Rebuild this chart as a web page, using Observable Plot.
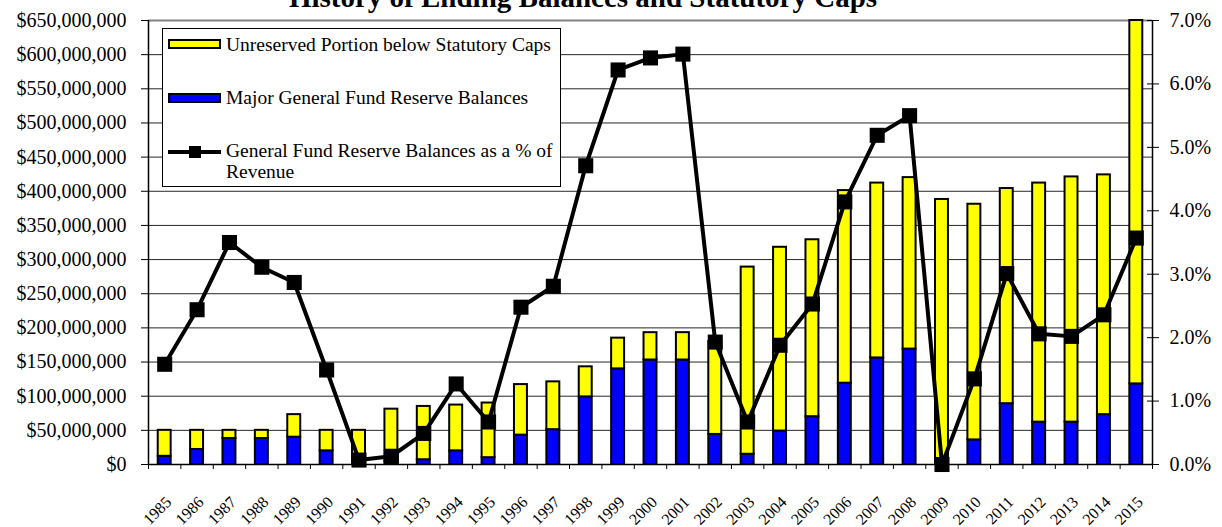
<!DOCTYPE html>
<html>
<head>
<meta charset="utf-8">
<script src="https://cdn.jsdelivr.net/npm/d3@7"></script>
<script src="https://cdn.jsdelivr.net/npm/@observablehq/plot@0.6"></script>
<style>
  body { margin: 0; background: #fff; }
  #wrap { position: relative; width: 1222px; height: 527px; overflow: hidden; font-family: "Liberation Serif", "Times New Roman", serif; color: #000; }
  #chart { position: absolute; left: 0; top: 0; }
  #title { position: absolute; left: 0; width: 1166px; top: -17px; text-align: center; font-weight: bold; font-size: 29px; line-height: 29px; white-space: nowrap; }
  #legend { position: absolute; left: 162px; top: 28px; width: 399px; height: 159px; box-sizing: border-box; border: 1px solid #000; background: #fff; }
  #legend .sw { position: absolute; box-sizing: border-box; border: 2px solid #000; }
  #legend .lbl { position: absolute; left: 63px; font-size: 19.5px; line-height: 21px; white-space: nowrap; }
  #legend .ln { position: absolute; background: #000; }
</style>
</head>
<body>
<div id="wrap">
  <div id="chart"></div>
  <div id="title">History of Ending Balances and Statutory Caps</div>
  <div id="legend"></div>
</div>
<script>
// ---- Data (dollar values in millions, percentages in %) ----
const years = [1985,1986,1987,1988,1989,1990,1991,1992,1993,1994,1995,1996,1997,1998,1999,2000,2001,2002,2003,2004,2005,2006,2007,2008,2009,2010,2011,2012,2013,2014,2015];
const majorReserve = [12,22,38,38,40,20,2,5,7,20,10,43,51,99,140,153,153,44,15,49,70,119,156,169,0,36,89,62,62,73,118];
const unreservedPortion = [38,28,12,12,33,30,48,76,78,67,80,74,70,44,45,40,40,136,274,269,259,282,256,251,388,345,315,350,359,351,532];
const pctOfRevenue = [1.58,2.44,3.50,3.11,2.87,1.49,0.07,0.13,0.49,1.27,0.67,2.48,2.81,4.71,6.22,6.41,6.47,1.93,0.67,1.88,2.53,4.14,5.19,5.50,0.0,1.35,3.01,2.06,2.02,2.36,3.57];
const leftTicks = [0,50,100,150,200,250,300,350,400,450,500,550,600,650]; // $M
const rightTicks = [0,1,2,3,4,5,6,7]; // %
const seriesNames = ["Unreserved Portion below Statutory Caps", "Major General Fund Reserve Balances", "General Fund Reserve Balances as a % of Revenue"];
const colors = { unreserved: "#FFFF00", reserve: "#0000FF", line: "#000000" };

// ---- Build table ----
const M = 1e6;
const yMax = 650 * M, pMax = 7;
const toY = p => p / pMax * yMax;
const rows = years.map((yr, i) => ({
  year: yr,
  reserve: majorReserve[i] * M,
  total: (majorReserve[i] + unreservedPortion[i]) * M,
  pct: pctOfRevenue[i]
}));
const boundaries = [years[0] - 0.5, ...years.map(y => y + 0.5)];
const fmtDollar = d3.format("$,.0f");

const chart = Plot.plot({
  width: 1222,
  height: 527,
  marginLeft: 148,
  marginRight: 70,
  marginTop: 20,
  marginBottom: 63,
  style: { fontFamily: "'Liberation Serif', 'Times New Roman', serif", fontSize: "20px", color: "#000", background: "#fff", overflow: "visible" },
  x: { domain: [years[0] - 0.5, years[years.length - 1] + 0.5], axis: null },
  y: { domain: [0, yMax], axis: null },
  marks: [
    // gridlines
    Plot.ruleY(leftTicks.slice(1, -1).map(v => v * M), { stroke: "#000", strokeWidth: 1, strokeOpacity: 0.85 }),
    // plot-area border (top)
    Plot.ruleY([yMax], { stroke: "#808080", strokeWidth: 2 }),
    // bars
    Plot.rectY(rows, { x1: d => d.year - 0.2, x2: d => d.year + 0.2, y1: 0, y2: "reserve", fill: colors.reserve, stroke: "#000", strokeWidth: 2 }),
    Plot.rectY(rows, { x1: d => d.year - 0.2, x2: d => d.year + 0.2, y1: "reserve", y2: "total", fill: colors.unreserved, stroke: "#000", strokeWidth: 2 }),
    // percent line
    Plot.line(rows, { x: "year", y: d => toY(d.pct), stroke: colors.line, strokeWidth: 4 }),
    Plot.dot(rows, { x: "year", y: d => toY(d.pct), symbol: "square", r: 8.5, fill: colors.line, stroke: null }),
    // axes lines
    Plot.ruleX([years[0] - 0.5], { stroke: "#000", strokeWidth: 1.5 }),
    Plot.ruleX([years[years.length - 1] + 0.5], { stroke: "#000", strokeWidth: 1.5 }),
    Plot.ruleY([0], { stroke: "#000", strokeWidth: 1.5 }),
    // left axis
    Plot.axisY({ anchor: "left", ticks: leftTicks.map(v => v * M), tickFormat: fmtDollar, tickSize: 7, tickPadding: 15, fontSize: 20, label: null }),
    // right axis
    Plot.axisY({ anchor: "right", ticks: rightTicks.map(toY), tickFormat: v => (v / yMax * pMax).toFixed(1) + "%", tickSize: 12, dx: -6, tickPadding: 11, fontSize: 20, label: null }),
    // x ticks at category boundaries
    Plot.axisX({ anchor: "bottom", ticks: boundaries, tickFormat: () => "", tickSize: 5, label: null }),
    // x labels
    Plot.text(years, { x: d => d, frameAnchor: "bottom", text: d => String(d), rotate: -45, textAnchor: "end", lineAnchor: "middle", dx: 4, dy: 35, fontSize: 16 })
  ]
});
document.getElementById("chart").appendChild(chart);

// ---- Legend ----
const lg = document.getElementById("legend");
lg.innerHTML = `
  <div class="sw" style="left:5px;top:10px;width:53px;height:10px;background:${colors.unreserved}"></div>
  <div class="lbl" style="top:5px">${seriesNames[0]}</div>
  <div class="sw" style="left:5px;top:64px;width:53px;height:10px;background:${colors.reserve}"></div>
  <div class="lbl" style="top:58px">${seriesNames[1]}</div>
  <div class="ln" style="left:5px;top:121px;width:53px;height:4px"></div>
  <div class="ln" style="left:26px;top:117px;width:12px;height:12px"></div>
  <div class="lbl" style="top:111px">General Fund Reserve Balances as a % of<br>Revenue</div>
`;
</script>
</body>
</html>
